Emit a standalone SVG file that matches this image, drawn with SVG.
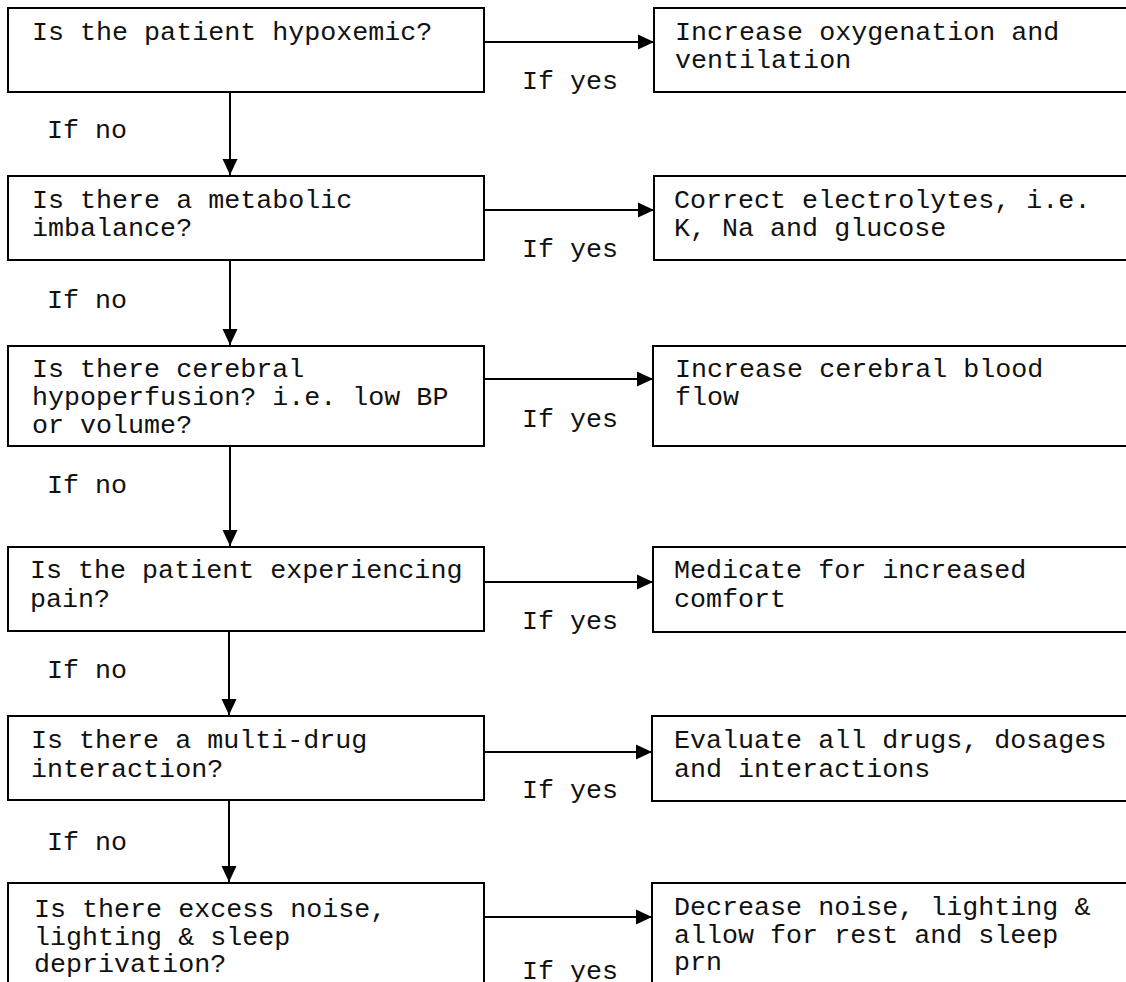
<svg xmlns="http://www.w3.org/2000/svg" width="1126" height="982" viewBox="0 0 1126 982">
  <defs>
    <style>
      .box { fill: none; stroke: #000; stroke-width: 2; }
      .link { fill: none; stroke: #000; stroke-width: 2; }
      text { font-family: "Liberation Mono", "Courier New", monospace; font-size: 26.7px; fill: #111; }
    </style>
    <marker id="arrow" viewBox="0 0 16 16" refX="16" refY="8" markerWidth="16" markerHeight="16" markerUnits="userSpaceOnUse" orient="auto">
      <path d="M0,0.5 L16,8 L0,15.5 Z" fill="#000"/>
    </marker>
  </defs>
  <rect width="1126" height="982" fill="#fff"/>

  <!-- question column -->
  <g id="q-hypoxemic">
    <rect class="box" x="8" y="8" width="476" height="84"/>
    <text x="32" y="40">Is the patient hypoxemic?</text>
  </g>
  <g id="q-metabolic">
    <rect class="box" x="8" y="176" width="476" height="84"/>
    <text x="32" y="208">Is there a metabolic</text>
    <text x="32" y="236">imbalance?</text>
  </g>
  <g id="q-perfusion">
    <rect class="box" x="8" y="346" width="476" height="100"/>
    <text x="32" y="377">Is there cerebral</text>
    <text x="32" y="405">hypoperfusion? i.e. low BP</text>
    <text x="32" y="433">or volume?</text>
  </g>
  <g id="q-pain">
    <rect class="box" x="8" y="547" width="476" height="84"/>
    <text x="30" y="578">Is the patient experiencing</text>
    <text x="30" y="607">pain?</text>
  </g>
  <g id="q-drugs">
    <rect class="box" x="8" y="716" width="476" height="84"/>
    <text x="31" y="748">Is there a multi-drug</text>
    <text x="31" y="777">interaction?</text>
  </g>
  <g id="q-environment">
    <rect class="box" x="8" y="883" width="476" height="130"/>
    <text x="34" y="917">Is there excess noise,</text>
    <text x="34" y="945">lighting &amp; sleep</text>
    <text x="34" y="972">deprivation?</text>
  </g>

  <!-- action column (runs off the right edge) -->
  <g id="a-oxygenation">
    <rect class="box" x="654" y="8" width="500" height="84"/>
    <text x="675" y="40">Increase oxygenation and</text>
    <text x="675" y="68">ventilation</text>
  </g>
  <g id="a-electrolytes">
    <rect class="box" x="654" y="176" width="500" height="84"/>
    <text x="674" y="208">Correct electrolytes, i.e.</text>
    <text x="674" y="236">K, Na and glucose</text>
  </g>
  <g id="a-bloodflow">
    <rect class="box" x="653" y="346" width="500" height="100"/>
    <text x="675" y="377">Increase cerebral blood</text>
    <text x="675" y="405">flow</text>
  </g>
  <g id="a-comfort">
    <rect class="box" x="653" y="547" width="500" height="85"/>
    <text x="674" y="578">Medicate for increased</text>
    <text x="674" y="607">comfort</text>
  </g>
  <g id="a-evaluate">
    <rect class="box" x="652" y="716" width="500" height="85"/>
    <text x="674" y="748">Evaluate all drugs, dosages</text>
    <text x="674" y="777">and interactions</text>
  </g>
  <g id="a-rest">
    <rect class="box" x="652" y="883" width="500" height="130"/>
    <text x="674" y="915">Decrease noise, lighting &amp;</text>
    <text x="674" y="943">allow for rest and sleep</text>
    <text x="674" y="970">prn</text>
  </g>

  <!-- connectors -->
  <g id="connectors">
    <line class="link" x1="484" y1="42" x2="654" y2="42" marker-end="url(#arrow)"/>
    <line class="link" x1="484" y1="210" x2="654" y2="210" marker-end="url(#arrow)"/>
    <line class="link" x1="484" y1="379" x2="653" y2="379" marker-end="url(#arrow)"/>
    <line class="link" x1="484" y1="582" x2="653" y2="582" marker-end="url(#arrow)"/>
    <line class="link" x1="484" y1="752" x2="652" y2="752" marker-end="url(#arrow)"/>
    <line class="link" x1="484" y1="917" x2="652" y2="917" marker-end="url(#arrow)"/>

    <line class="link" x1="230" y1="92" x2="230" y2="175" marker-end="url(#arrow)"/>
    <line class="link" x1="230" y1="260" x2="230" y2="345" marker-end="url(#arrow)"/>
    <line class="link" x1="230" y1="446" x2="230" y2="546" marker-end="url(#arrow)"/>
    <line class="link" x1="229" y1="631" x2="229" y2="715" marker-end="url(#arrow)"/>
    <line class="link" x1="229" y1="800" x2="229" y2="882" marker-end="url(#arrow)"/>

    <g id="labels">
      <text x="522" y="89">If yes</text>
      <text x="522" y="257">If yes</text>
      <text x="522" y="427">If yes</text>
      <text x="522" y="629">If yes</text>
      <text x="522" y="798">If yes</text>
      <text x="522" y="979">If yes</text>
      <text x="47" y="138">If no</text>
      <text x="47" y="308">If no</text>
      <text x="47" y="493">If no</text>
      <text x="47" y="678">If no</text>
      <text x="47" y="850">If no</text>
    </g>
  </g>
</svg>
